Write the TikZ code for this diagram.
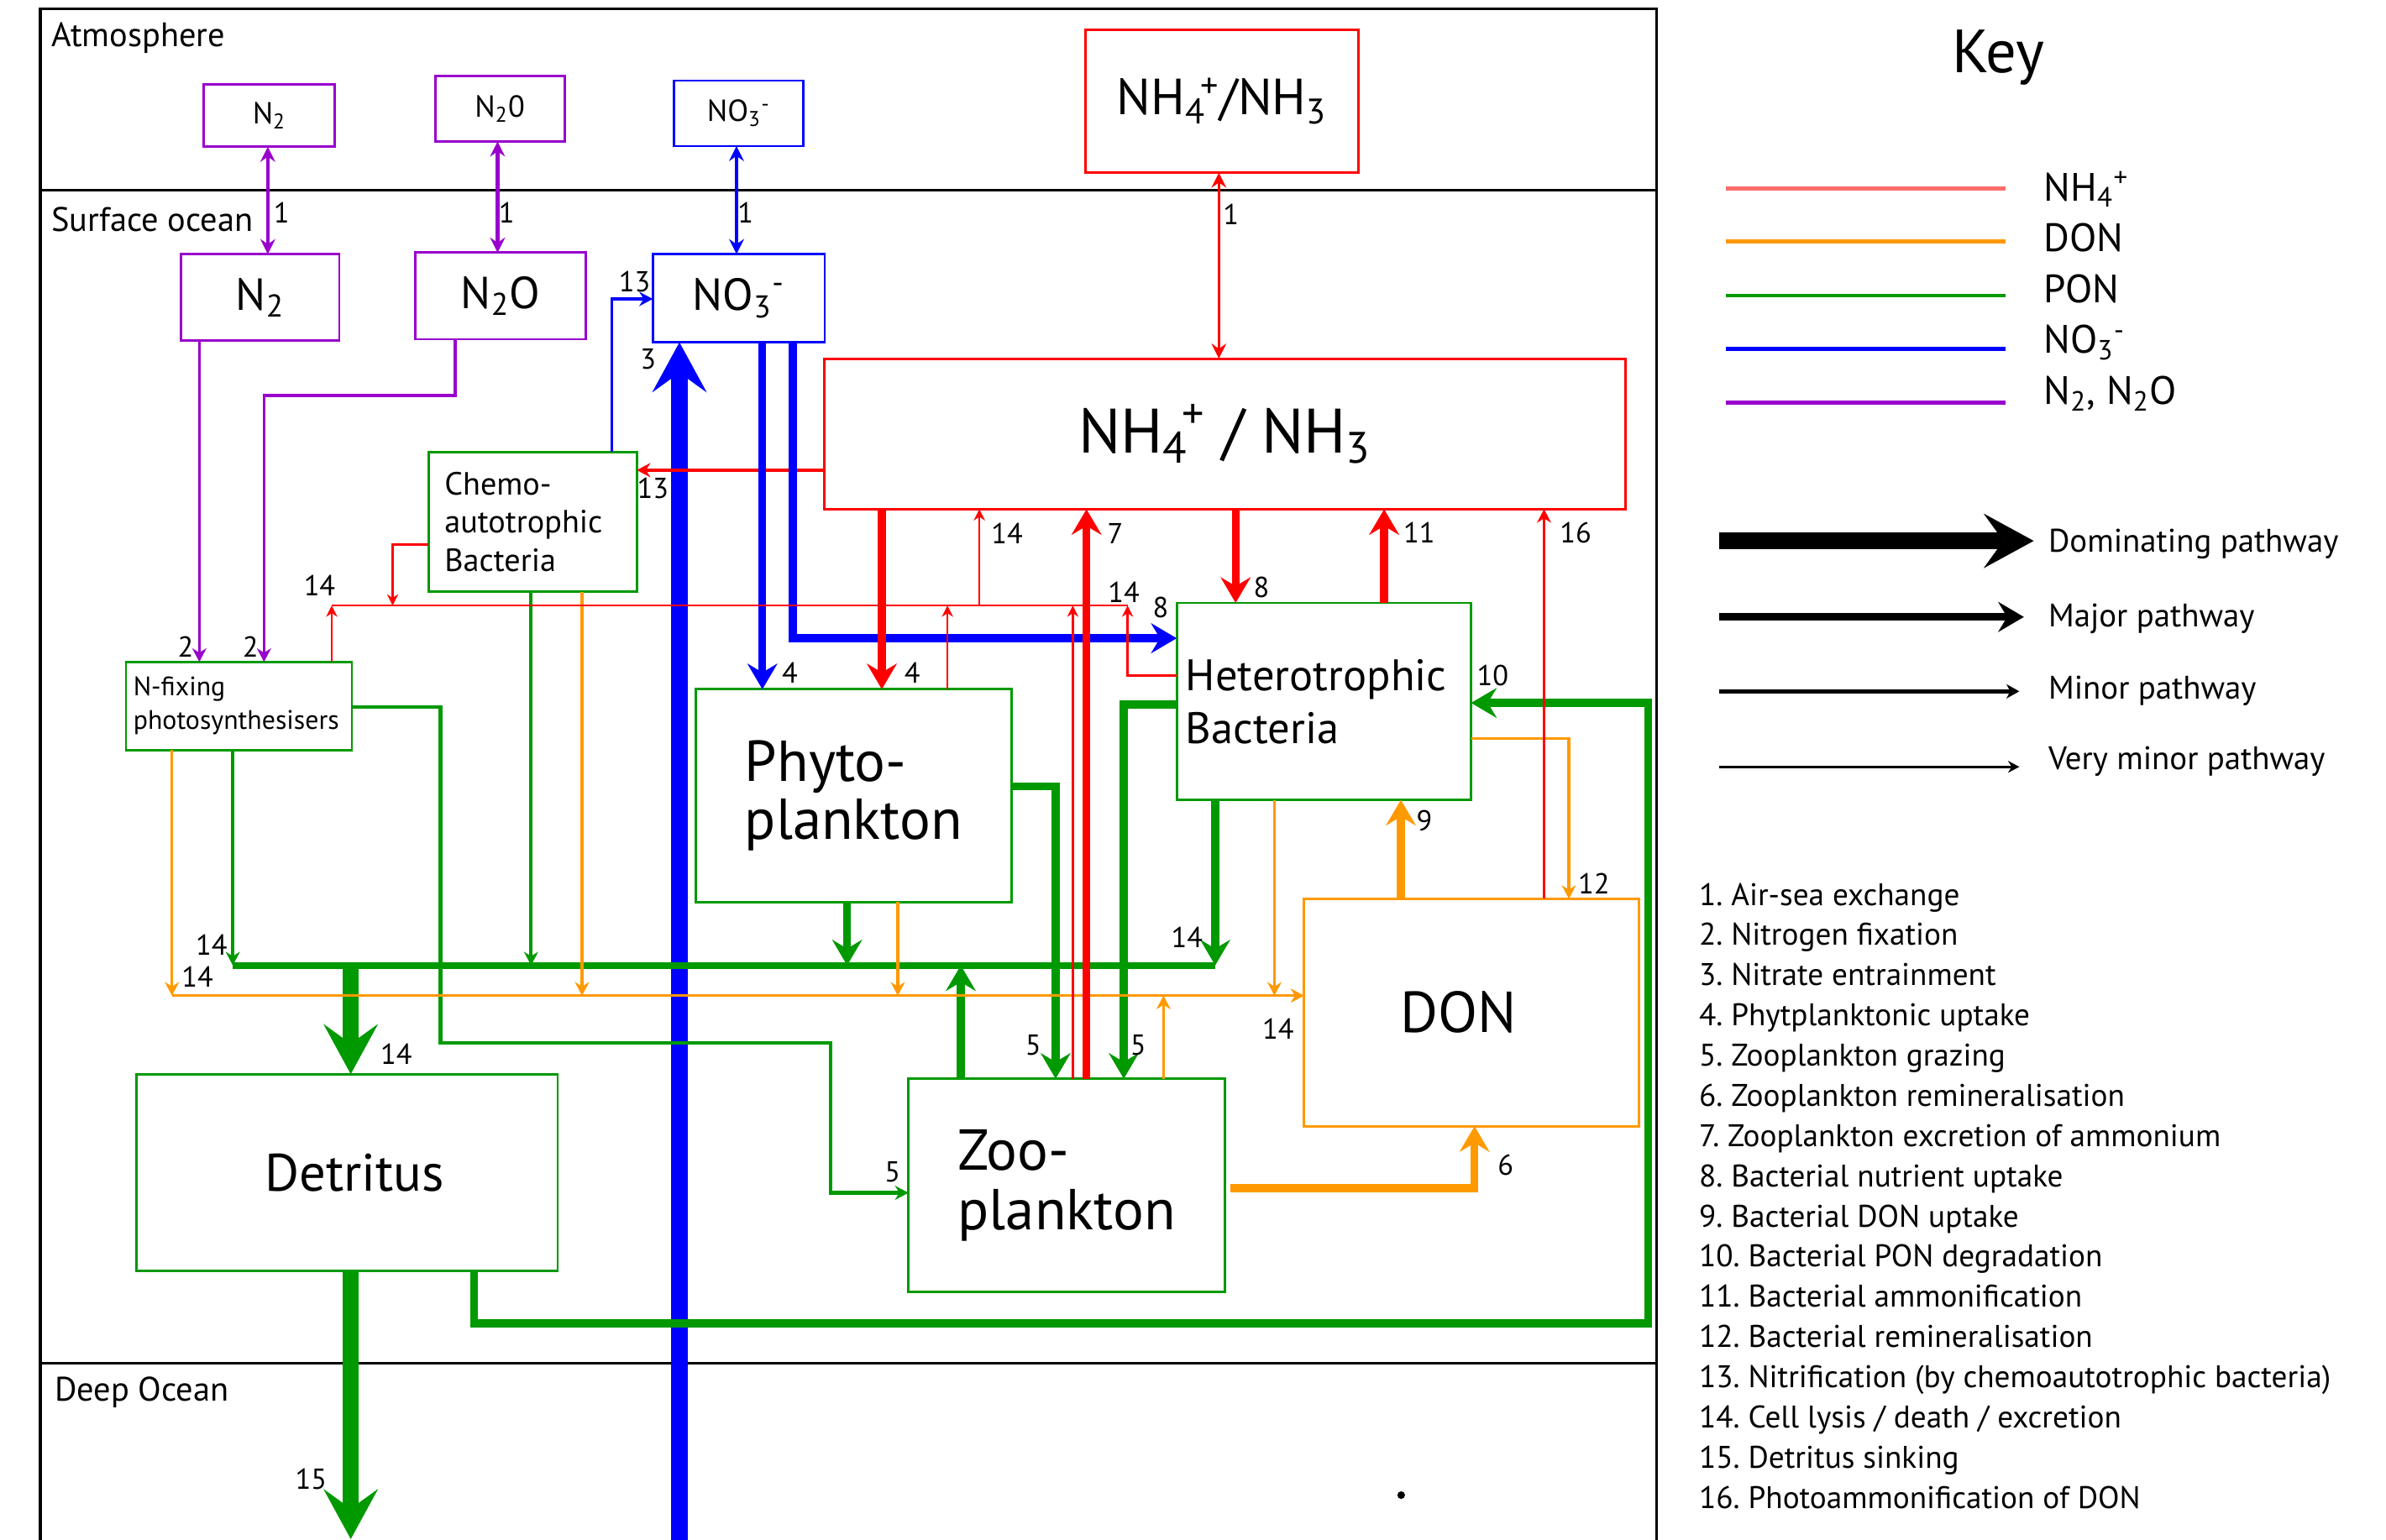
\documentclass[tikz,border=0pt]{standalone}
\usepackage{fontspec}
\setmainfont{PT Sans}
\usetikzlibrary{arrows.meta}
\definecolor{cred}{RGB}{255,0,0}
\definecolor{cblue}{RGB}{0,0,255}
\definecolor{cgreen}{RGB}{0,153,0}
\definecolor{corange}{RGB}{255,153,0}
\definecolor{cpurple}{RGB}{153,0,204}
\definecolor{ckeyred}{RGB}{255,110,110}
\newcommand\fsz[2]{\fontsize{#1}{#2}\selectfont}
\frenchspacing
\begin{document}
\begin{tikzpicture}[x=0.02cm,y=-0.02cm,
 box/.style={draw, line width=0.9pt, inner sep=0pt, outer sep=0pt, align=left, text=black},
 frameline/.style={line width=1pt, black},
 dom/.style={line width=6pt, -{Stealth[length=0.66cm,width=0.72cm,inset=0.26cm,line width=0pt]}},
 maj/.style={line width=2.9pt, -{Stealth[length=0.34cm,width=0.40cm,inset=0.12cm,line width=0pt]}},
 mnr/.style={line width=1.1pt, -{Stealth[length=0.18cm,width=0.19cm,inset=0.06cm,line width=0pt]}},
 vmn/.style={line width=0.85pt, -{Stealth[length=0.15cm,width=0.15cm,inset=0.05cm,line width=0pt]}},
 dbl/.style={line width=1.4pt, {Stealth[length=0.2cm,width=0.2cm,inset=0.07cm,line width=0pt]}-{Stealth[length=0.2cm,width=0.2cm,inset=0.07cm,line width=0pt]}},
 num/.style={inner sep=0pt, font=\fsz{10.8}{12}},
 reg/.style={anchor=base west, inner sep=0pt, font=\fsz{12.7}{15}},
]
\useasboundingbox (0,0) rectangle (1568,1012);

% frame
\draw[frameline] (26.5,1012) -- (26.5,6) -- (1088.6,6) -- (1088.6,1012);
\draw[frameline] (26.5,125) -- (1088.6,125);
\draw[frameline] (26.5,896) -- (1088.6,896);
\node[reg] (atm) at (33.4,30.4) {Atmosphere};
\node[reg] (surf) at (33.4,152) {Surface ocean};
\node[reg] (deep) at (35.6,920.6) {Deep Ocean};

% boxes
\node[box, draw=cpurple, minimum width=1.72cm, minimum height=0.82cm, font=\fsz{11.4}{13}] (aN2) at (177,76) {N\textsubscript{2}};
\node[box, draw=cpurple, minimum width=1.70cm, minimum height=0.86cm, font=\fsz{11.4}{13}] (aN2O) at (328.5,71.5) {N\textsubscript{2}0};
\node[box, draw=cblue, minimum width=1.70cm, minimum height=0.86cm, font=\fsz{11.4}{13}] (aNO3) at (485.5,74.5) {NO\textsubscript{3}\textsuperscript{-}};
\node[box, draw=cred, minimum width=3.59cm, minimum height=1.88cm, font=\fsz{19}{22}] (aNH4) at (803,66.5) {NH\textsubscript{4}\kern-0.1em\textsuperscript{+}/NH\textsubscript{3}};
\node[box, draw=cpurple, minimum width=2.08cm, minimum height=1.14cm, font=\fsz{16.8}{19}] (sN2) at (171,195.5) {N\textsubscript{2}};
\node[box, draw=cpurple, minimum width=2.24cm, minimum height=1.14cm, font=\fsz{16.8}{19}] (sN2O) at (329,194.5) {N\textsubscript{2}O};
\node[box, draw=cblue, minimum width=2.26cm, minimum height=1.16cm, font=\fsz{16.8}{19}] (sNO3) at (485.5,196) {NO\textsubscript{3}\textsuperscript{-}};
\node[box, draw=cred, minimum width=10.54cm, minimum height=1.98cm, font=\fsz{23.5}{28}] (sNH4) at (805,285.2) {NH\textsubscript{4}\kern-0.1em\textsuperscript{+} / NH\textsubscript{3}};
\node[box, draw=cgreen, minimum width=2.74cm, minimum height=1.84cm, font=\fsz{12}{14.3}] (chemo) at (350,343) {Chemo-\\autotrophic\rule{6.8pt}{0pt}\\Bacteria};
\node[box, draw=cgreen, minimum width=2.97cm, minimum height=1.16cm, font=\fsz{10}{12.6}] (nfix) at (157,464) {N-fixing\\photosynthesisers\rule{2pt}{0pt}};
\node[box, draw=cgreen, minimum width=4.15cm, minimum height=2.80cm, font=\fsz{21.6}{21.8}] (phyto) at (561,523) {Phyto-\\plankton};
\node[box, draw=cgreen, minimum width=3.87cm, minimum height=2.59cm, font=\fsz{16.5}{19.8}] (hetero) at (870,461) {Heterotrophic\rule{5.7pt}{0pt}\\Bacteria};
\node[box, draw=corange, minimum width=4.40cm, minimum height=2.99cm, font=\fsz{21.6}{24}] (don) at (967,665.5) {DON\hspace{10pt}};
\node[box, draw=cgreen, minimum width=4.16cm, minimum height=2.80cm, font=\fsz{21.6}{22.4}] (zoo) at (701,779) {Zoo-\\plankton};
\node[box, draw=cgreen, minimum width=5.54cm, minimum height=2.59cm, font=\fsz{19.7}{22}] (detritus) at (228,770.7) {\hspace*{5.7pt}Detritus};

% nitrate entrainment (drawn first, under the rest)
\coordinate (deep3) at (446.5,1013);
\draw[dom, cblue] (deep3) -- (deep3 |- sNO3.south);

% 1 air-sea exchange
\draw[dbl, cpurple] (176,0 |- aN2.south) -- (176,0 |- sN2.north);
\draw[dbl, cpurple] (327,0 |- aN2O.south) -- (327,0 |- sN2O.north);
\draw[dbl, cblue] (484,0 |- aNO3.south) -- (484,0 |- sNO3.north);
\draw[dbl, cred, line width=0.9pt] (801,0 |- aNH4.south) -- (801,0 |- sNH4.north);

% 2 nitrogen fixation
\draw[mnr, cpurple] (131,0 |- sN2.south) -- (131,0 |- nfix.north);
\draw[mnr, cpurple] (299,0 |- sN2O.south) -- (299,260) -- (173.5,260) -- (173.5,0 |- nfix.north);

% 13 nitrification
\draw[mnr, cblue] (402,0 |- chemo.north) -- (402,196.5) -- (402,196.5 -| sNO3.west);
\draw[mnr, cred] (sNH4.west |- 0,309) -- (chemo.east |- 0,309);

% 4 and 8 nitrate uptake
\draw[maj, cblue] (501,0 |- sNO3.south) -- (501,0 |- phyto.north);
\draw[maj, cblue] (521,0 |- sNO3.south) -- (521,419.5) -- (521,419.5 -| hetero.west);

% green PON network
\coordinate (gL) at (153,634.5);
\coordinate (gR) at (798.6,634.5);
\draw[cgreen, line width=2.5pt] (gL) -- (gR);
\draw[mnr, cgreen, line width=1.3pt] (153,0 |- nfix.south) -- (gL);
\draw[mnr, cgreen, line width=1.3pt] (349,0 |- chemo.south) -- (349,634.5);
\draw[maj, cgreen] (556.7,0 |- phyto.south) -- (556.7,634.5);
\draw[maj, cgreen] (798.6,0 |- hetero.south) -- (gR);
\draw[dom, cgreen] (230.5,634.5) -- (230.5,0 |- detritus.north);
\draw[maj, cgreen] (631.4,0 |- zoo.north) -- (631.4,634.5);
\draw[mnr, cgreen, line width=1.3pt] (nfix.east |- 0,464.7) -- (289.5,464.7) -- (289.5,685.6) -- (546,685.6) -- (546,784) -- (546,784 -| zoo.west);
\draw[maj, cgreen] (phyto.east |- 0,517) -- (693.7,517) -- (693.7,0 |- zoo.north);
\draw[maj, cgreen] (hetero.west |- 0,463) -- (738.5,463) -- (738.5,0 |- zoo.north);
\coordinate (deep15) at (230.5,1011.6);
\draw[dom, cgreen] (230.5,0 |- detritus.south) -- (deep15);
\draw[maj, cgreen] (311.7,0 |- detritus.south) -- (311.7,869.8) -- (1083.2,869.8) -- (1083.2,462) -- (1083.2,462 -| hetero.east);

% orange DON network
\coordinate (oL) at (113,654.4);
\draw[mnr, corange] (oL) -- (oL -| don.west);
\draw[mnr, corange] (113,0 |- nfix.south) -- (oL);
\draw[mnr, corange] (382.5,0 |- chemo.south) -- (382.5,654.4);
\draw[mnr, corange] (590,0 |- phyto.south) -- (590,654.4);
\draw[mnr, corange] (764.6,0 |- zoo.north) -- (764.6,654.4);
\draw[mnr, corange] (837.5,0 |- hetero.south) -- (837.5,654.4);
\draw[mnr, corange] (hetero.east |- 0,485.4) -- (1031,485.4) -- (1031,0 |- don.north);
\draw[maj, corange] (920.6,0 |- don.north) -- (920.6,0 |- hetero.south);
\draw[maj, corange, shorten <=0.07cm] (zoo.east |- 0,781) -- (969,781) -- (969,0 |- don.south);

% red NH4 network
\draw[maj, cred] (579.5,0 |- sNH4.south) -- (579.5,0 |- phyto.north);
\coordinate (r14L) at (218,398);
\coordinate (r14R) at (741,398);
\draw[cred, line width=0.85pt] (r14L) -- (r14R);
\draw[vmn, cred] (218,0 |- nfix.north) -- (r14L);
\draw[vmn, cred] (chemo.west |- 0,358) -- (258,358) -- (258,398);
\draw[vmn, cred] (622.6,0 |- phyto.north) -- (622.6,398);
\draw[vmn, cred] (705,0 |- zoo.north) -- (705,398);
\draw[vmn, cred] (hetero.west |- 0,444) -- (741,444) -- (r14R);
\draw[vmn, cred] (643.6,398) -- (643.6,0 |- sNH4.south);
\draw[maj, cred] (714,0 |- zoo.north) -- (714,0 |- sNH4.south);
\draw[maj, cred] (812,0 |- sNH4.south) -- (812,0 |- hetero.north);
\draw[maj, cred] (909.6,0 |- hetero.north) -- (909.6,0 |- sNH4.south);
\draw[mnr, cred] (1014.7,0 |- don.north) -- (1014.7,0 |- sNH4.south);

% pathway numbers
\foreach \x/\y/\t [count=\i] in {185/140/1, 333/140/1, 490/140/1, 809/140.6/1,
  122/425/2, 164.6/425/2, 417/185/13, 429/321/13, 426/236/3,
  519/442/4, 599.5/442/4, 210/384.7/14, 661.8/350.7/14, 733/350.7/7,
  738.5/389/14, 762.7/399.5/8, 829/386/8, 932.7/350/11, 1035.4/350/16,
  981/444/10, 936/539.5/9, 1047.5/580.6/12, 139/621/14, 129.7/642/14,
  780/616/14, 260.4/692.6/14, 840/676/14, 679/687/5, 748/687/5,
  586.5/770.5/5, 989.5/765.8/6, 204.4/972.4/15}
  \node[num] (lab\i) at (\x,\y) {\t};

% stray dot
\fill (920.8,982.7) circle[radius=2.5];

% key
\node[inner sep=0pt, font=\fsz{22.8}{26}] (keyt) at (1313,38) {Key};
\draw[line width=1.5pt, ckeyred] (1134,124) -- (1318,124);
\draw[line width=1.5pt, corange] (1134,158.7) -- (1318,158.7);
\draw[line width=1.5pt, cgreen] (1134,194.3) -- (1318,194.3);
\draw[line width=1.5pt, cblue] (1134,229.5) -- (1318,229.5);
\draw[line width=1.5pt, cpurple] (1134,264.7) -- (1318,264.7);
\node[anchor=base west, inner sep=0pt, font=\fsz{14.8}{17}] (kNH) at (1342.8,132) {NH\textsubscript{4}\textsuperscript{+}};
\node[anchor=base west, inner sep=0pt, font=\fsz{14.8}{17}] (kDON) at (1342.8,165.4) {DON};
\node[anchor=base west, inner sep=0pt, font=\fsz{14.8}{17}] (kPON) at (1342.8,199) {PON};
\node[anchor=base west, inner sep=0pt, font=\fsz{14.8}{17}] (kNO) at (1342.8,232.3) {NO\textsubscript{3}\textsuperscript{-}};
\node[anchor=base west, inner sep=0pt, font=\fsz{14.8}{17}] (kN2) at (1342.8,265.8) {N\textsubscript{2}, N\textsubscript{2}O};

\draw[dom, line width=6.4pt] (1130,355.5) -- (1336.5,355.5);
\draw[maj] (1130,405.5) -- (1330,405.5);
\draw[line width=1.4pt, -{Stealth[length=0.17cm,width=0.19cm,inset=0.05cm,line width=0pt]}] (1130,454.4) -- (1327,454.4);
\draw[line width=0.9pt, -{Stealth[length=0.15cm,width=0.16cm,inset=0.05cm,line width=0pt]}] (1130,504) -- (1327,504);
\node[anchor=base west, inner sep=0pt, font=\fsz{12.2}{14}] (pDom) at (1345.8,363) {Dominating pathway};
\node[anchor=base west, inner sep=0pt, font=\fsz{12.2}{14}] (pMaj) at (1345.8,412) {Major pathway};
\node[anchor=base west, inner sep=0pt, font=\fsz{12.2}{14}] (pMin) at (1345.8,459.4) {Minor pathway};
\node[anchor=base west, inner sep=0pt, font=\fsz{12.2}{14}] (pVmin) at (1345.8,506) {Very minor pathway};

% numbered list
\foreach \t [count=\i] in {{1. Air-sea exchange}, {2. Nitrogen fixation}, {3. Nitrate entrainment},
  {4. Phytplanktonic uptake}, {5. Zooplankton grazing}, {6. Zooplankton remineralisation},
  {7. Zooplankton excretion of ammonium}, {8. Bacterial nutrient uptake}, {9. Bacterial DON uptake},
  {10. Bacterial PON degradation}, {11. Bacterial ammonification}, {12. Bacterial remineralisation},
  {13. Nitrification (by chemoautotrophic bacteria)}, {14. Cell lysis / death / excretion},
  {15. Detritus sinking}, {16. Photoammonification of DON}}
  \node[anchor=base west, inner sep=0pt, font=\fsz{11.7}{13}] (item\i) at (1116.2,{595+(\i-1)*26.42}) {\t};
\end{tikzpicture}
\end{document}
